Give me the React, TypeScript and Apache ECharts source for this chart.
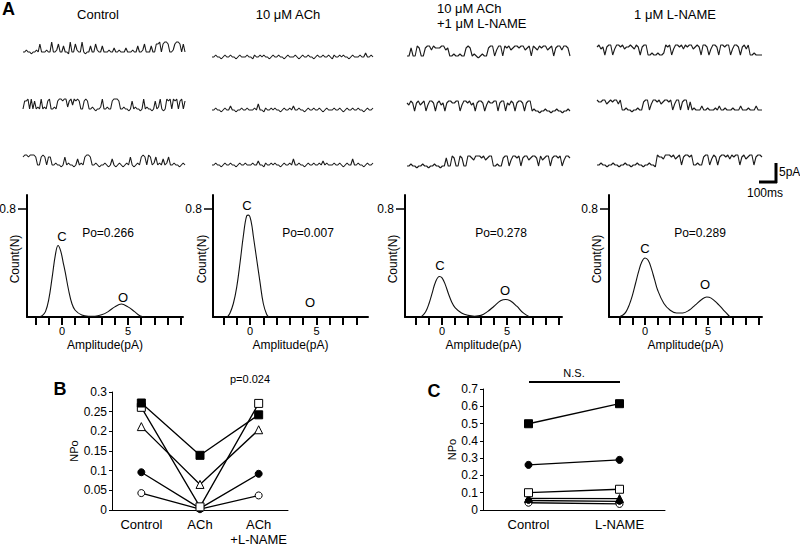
import React, { useEffect, useRef } from "react";
import * as echarts from "echarts";

const FONT = "'Liberation Sans', Arial, Helvetica, sans-serif";

// ---------- Panel A: single-channel traces (digit = current level, baseline = 1, open ≈ 5-6) ----------
const traceControl = [
  "1121101121511121161125114110611521161011411521141112113112111311121141125111411556156651125665151",
  "155616151216121561121566566256365651156511210112611211566651121101512110161211015126101656165615615",
  "566566651156515511211015121101412156651121011210141012101215101215651651251214125112110121",
];
const traceACh = [
  "1121101211211012111211021121211012112110121112101211211012112112102112121101211121131121",
  "1121101211311011211211121411021121211012112131121101211211210121112112101211211211012112",
  "1121101211211012112111211311021121211012112141121101211211213121112112101211411211012112",
];
const traceAChLNAME = [
  "115116511566465556645112112115651210121156614661656456656645616546566456156646651",
  "546515645614665156451566556614665645156651465566156615465156651566121101121101121101121",
  "112110112110112110115116511651166546665645661121156614665615664566516456615665614665",
];
const traceLNAME = [
  "5645156614665645565465156611211211265614665646566456516651466516656614665156461121111",
  "65566456566461121101121156614665645665614661566151211131121112131121112111311121113111",
  "11211011211011211011211011211065546665645615665611211566146515665646566156456615665",
];
const traceColumns = [traceControl, traceACh, traceAChLNAME, traceLNAME];
const columnTitles = ["Control", "10 μM ACh", "10 μM ACh\n+1 μM L-NAME", "1 μM L-NAME"];

// ---------- Panel A: amplitude histograms [amplitude (pA), count] ----------
const histControl = [
  [-2.0, 0], [-1.7, 0.002], [-1.5, 0.01], [-1.25, 0.04], [-1.0, 0.13], [-0.75, 0.29], [-0.5, 0.46],
  [-0.3, 0.53], [-0.1, 0.49], [0.1, 0.4], [0.25, 0.33], [0.5, 0.2], [0.75, 0.1], [1.0, 0.05],
  [1.5, 0.015], [2.0, 0.006], [2.5, 0.006], [3.0, 0.016], [3.5, 0.04], [4.0, 0.075], [4.5, 0.096],
  [5.0, 0.075], [5.5, 0.04], [5.9, 0.01], [6.3, 0],
];
const histACh = [
  [-1.7, 0], [-1.5, 0.03], [-1.25, 0.1], [-1.0, 0.22], [-0.75, 0.4], [-0.5, 0.6], [-0.25, 0.75],
  [-0.1, 0.755], [0.1, 0.7], [0.25, 0.6], [0.5, 0.43], [0.75, 0.26], [1.0, 0.1], [1.25, 0.02], [1.4, 0],
];
const histAChLNAME = [
  [-1.7, 0], [-1.5, 0.01], [-1.25, 0.04], [-1.0, 0.1], [-0.75, 0.18], [-0.5, 0.26], [-0.2, 0.3],
  [0.0, 0.29], [0.25, 0.24], [0.5, 0.17], [0.75, 0.11], [1.0, 0.07], [1.5, 0.03], [2.0, 0.012],
  [2.5, 0.006], [3.0, 0.012], [3.5, 0.04], [4.0, 0.08], [4.5, 0.12], [4.9, 0.13], [5.25, 0.12],
  [5.75, 0.08], [6.25, 0.03], [6.75, 0],
];
const histLNAME = [
  [-2.1, 0], [-1.75, 0.015], [-1.5, 0.04], [-1.25, 0.09], [-1.0, 0.16], [-0.75, 0.25], [-0.5, 0.34],
  [-0.25, 0.41], [0.0, 0.437], [0.25, 0.42], [0.5, 0.36], [0.75, 0.28], [1.0, 0.2], [1.5, 0.1],
  [2.0, 0.05], [2.5, 0.03], [3.0, 0.03], [3.5, 0.05], [4.0, 0.09], [4.5, 0.13], [4.9, 0.148],
  [5.25, 0.14], [5.75, 0.1], [6.25, 0.05], [6.75, 0],
];
const histograms = [histControl, histACh, histAChLNAME, histLNAME];
const poTexts = ["Po=0.266", "Po=0.007", "Po=0.278", "Po=0.289"];
const histXTicks = [-2, -1, 0, 1, 2, 3, 4, 5, 6, 7, 8, 9];
const histXLabels = [0, 5];
const histYLabels = [0.8];

// ---------- Panel B ----------
const bCategories = ["Control", "ACh", "ACh\n+L-NAME"];
const bFilledSquare = [0.272, 0.139, 0.242];
const bOpenSquare = [0.261, 0.008, 0.271];
const bOpenTriangle = [0.212, 0.065, 0.204];
const bFilledCircle = [0.096, 0.004, 0.092];
const bOpenCircle = [0.043, 0.002, 0.037];

// ---------- Panel C ----------
const cCategories = ["Control", "L-NAME"];
const cFilledSquare = [0.499, 0.615];
const cFilledCircle = [0.261, 0.29];
const cOpenSquare = [0.1, 0.12];
const cFilledTriangle = [0.067, 0.066];
const cSmallCircle = [0.055, 0.05];
const cOpenCircle = [0.042, 0.035];

export default function App() {
  const ref = useRef<HTMLDivElement>(null);
  useEffect(() => {
    if (!ref.current) return;
    const chart = echarts.init(ref.current, null, { renderer: "svg" });

    const grids: any[] = [];
    const xAxes: any[] = [];
    const yAxes: any[] = [];
    const series: any[] = [];
    const graphics: any[] = [];

    const text = (t: string, x: number, y: number, size: number, opts: any = {}) => {
      graphics.push({
        type: "text",
        x,
        y,
        z: 100,
        rotation: opts.rotation || 0,
        style: {
          text: t,
          fill: "#000",
          font: `${opts.weight || "normal"} ${size}px ${FONT}`,
          align: opts.align || "center",
          textAlign: opts.align || "center",
          verticalAlign: opts.va || "middle",
          textVerticalAlign: opts.va || "middle",
        },
      });
    };

    // traces
    const traceLayout = [
      { left: 23, width: 162, bases: [52, 109, 165] },
      { left: 212, width: 161, bases: [57, 110, 165] },
      { left: 407, width: 163, bases: [56, 111, 166] },
      { left: 597, width: 165, bases: [55, 110, 165] },
    ];
    traceColumns.forEach((col, ci) => {
      col.forEach((str, ri) => {
        const vals = str.split("").map((c) => Number(c));
        const gi = grids.length;
        const L = traceLayout[ci];
        grids.push({ left: L.left, top: L.bases[ri] - 14, width: L.width, height: 16, outerBoundsMode: "none" });
        xAxes.push({ gridIndex: gi, type: "value", min: 0, max: vals.length - 1, show: false });
        yAxes.push({ gridIndex: gi, type: "value", min: 0, max: 8, show: false });
        series.push({
          type: "line",
          xAxisIndex: gi,
          yAxisIndex: gi,
          data: vals.map((v, i) => [i, v]),
          showSymbol: false,
          lineStyle: { color: "#1a1a1a", width: 1.1 },
          silent: true,
        });
      });
    });

    // histograms
    const histLayout = [
      { left: 27, width: 156, min: -2.65, max: 9.17, nameX: 15 },
      { left: 213, width: 155, min: -2.78, max: 8.87, nameX: 202 },
      { left: 405, width: 157, min: -2.85, max: 9.23, nameX: 393 },
      { left: 609, width: 153, min: -2.86, max: 9.29, nameX: 597 },
    ];
    histograms.forEach((h, hi) => {
      const gi = grids.length;
      const L = histLayout[hi];
      grids.push({ left: L.left, top: 195, width: L.width, height: 122, outerBoundsMode: "none" });
      xAxes.push({
        gridIndex: gi,
        type: "value",
        min: L.min,
        max: L.max,
        splitLine: { show: false },
        axisLine: { show: true, onZero: false, lineStyle: { color: "#000", width: 2 } },
        axisTick: { show: true, customValues: histXTicks, length: 8, lineStyle: { color: "#000", width: 2 } },
        axisLabel: { customValues: histXLabels, color: "#000", fontSize: 11, fontFamily: FONT, margin: 8 },
        name: "Amplitude(pA)",
        nameLocation: "middle",
        nameGap: 22,
        nameMoveOverlap: false,
        nameTextStyle: { color: "#000", fontSize: 12, fontFamily: FONT },
      });
      yAxes.push({
        gridIndex: gi,
        type: "value",
        min: 0,
        max: 0.904,
        splitLine: { show: false },
        axisLine: { show: true, onZero: false, lineStyle: { color: "#000", width: 2 } },
        axisTick: { show: true, customValues: histYLabels, length: 9, lineStyle: { color: "#000", width: 1.5 } },
        axisLabel: { customValues: histYLabels, color: "#000", fontSize: 12, fontFamily: FONT, margin: 11 },
      });
      text("Count(N)", L.nameX, 259, 12, { rotation: Math.PI / 2 });
      series.push({
        type: "line",
        xAxisIndex: gi,
        yAxisIndex: gi,
        data: h,
        smooth: 0.4,
        showSymbol: false,
        lineStyle: { color: "#111", width: 1.1 },
        silent: true,
      });
    });

    // panel B
    const bGi = grids.length;
    grids.push({ left: 112, top: 392, width: 176, height: 118, outerBoundsMode: "none" });
    xAxes.push({
      gridIndex: bGi,
      type: "category",
      data: bCategories,
      axisLine: { lineStyle: { color: "#000", width: 1 } },
      axisTick: { alignWithLabel: true, length: 4, lineStyle: { color: "#000" } },
      axisLabel: { color: "#000", fontSize: 13, fontFamily: FONT, margin: 7, lineHeight: 15, interval: 0 },
    });
    yAxes.push({
      gridIndex: bGi,
      type: "value",
      min: 0,
      max: 0.3,
      interval: 0.05,
      splitLine: { show: false },
      axisLine: { show: true, lineStyle: { color: "#000", width: 1 } },
      axisTick: { show: true, length: 3, lineStyle: { color: "#000" } },
      axisLabel: { color: "#000", fontSize: 12, fontFamily: FONT, margin: 5, formatter: (v: number) => String(+v.toFixed(2)) },
      name: "NPo",
      nameLocation: "middle",
      nameRotate: 90,
      nameGap: 33,
      nameMoveOverlap: false,
      nameTextStyle: { color: "#000", fontSize: 11, fontFamily: FONT },
    });
    const mk = (gi: number, data: number[], symbol: string, filled: boolean, size: number) => ({
      type: "line",
      xAxisIndex: gi,
      yAxisIndex: gi,
      data,
      symbol,
      symbolSize: size,
      showSymbol: true,
      lineStyle: { color: "#000", width: 1.3 },
      itemStyle: { color: filled ? "#000" : "#fff", borderColor: "#000", borderWidth: 1 },
      silent: true,
    });
    series.push(mk(bGi, bOpenCircle, "circle", false, 7));
    series.push(mk(bGi, bFilledCircle, "circle", true, 7));
    series.push(mk(bGi, bOpenTriangle, "triangle", false, 8));
    series.push(mk(bGi, bOpenSquare, "rect", false, 8));
    series.push(mk(bGi, bFilledSquare, "rect", true, 8));

    // panel C
    const cGi = grids.length;
    grids.push({ left: 483, top: 389, width: 182, height: 121, outerBoundsMode: "none" });
    xAxes.push({
      gridIndex: cGi,
      type: "category",
      data: cCategories,
      axisLine: { lineStyle: { color: "#000", width: 1 } },
      axisTick: { alignWithLabel: true, length: 4, lineStyle: { color: "#000" } },
      axisLabel: { color: "#000", fontSize: 13, fontFamily: FONT, margin: 8, interval: 0 },
    });
    yAxes.push({
      gridIndex: cGi,
      type: "value",
      min: 0,
      max: 0.7,
      interval: 0.1,
      splitLine: { show: false },
      axisLine: { show: true, lineStyle: { color: "#000", width: 1 } },
      axisTick: { show: true, length: 3, lineStyle: { color: "#000" } },
      axisLabel: { color: "#000", fontSize: 12, fontFamily: FONT, margin: 5, formatter: (v: number) => String(+v.toFixed(1)) },
      name: "NPo",
      nameLocation: "middle",
      nameRotate: 90,
      nameGap: 26,
      nameMoveOverlap: false,
      nameTextStyle: { color: "#000", fontSize: 11, fontFamily: FONT },
    });
    series.push(mk(cGi, cOpenCircle, "circle", false, 7));
    series.push(mk(cGi, cSmallCircle, "circle", true, 6));
    series.push(mk(cGi, cFilledTriangle, "triangle", true, 8));
    series.push(mk(cGi, cOpenSquare, "rect", false, 8));
    series.push(mk(cGi, cFilledCircle, "circle", true, 7));
    series.push(mk(cGi, cFilledSquare, "rect", true, 8));

    // texts
    text("A", 2, 9, 18, { weight: "bold", align: "left" });
    text(columnTitles[0], 98, 14, 13);
    text(columnTitles[1], 288, 14, 13);
    text("10 μM ACh", 437, 8, 13, { align: "left" });
    text("+1 μM L-NAME", 437, 23, 13, { align: "left" });
    text(columnTitles[3], 675, 14, 13);

    const coPos = [
      { C: [62, 236], O: [123, 297], P: [108, 233] },
      { C: [247, 205], O: [310, 302], P: [308, 233] },
      { C: [440, 265], O: [505, 290], P: [501, 233] },
      { C: [645, 248], O: [705, 284], P: [700, 233] },
    ];
    coPos.forEach((p, i) => {
      text("C", p.C[0], p.C[1], 13);
      text("O", p.O[0], p.O[1], 13);
      text(poTexts[i], p.P[0], p.P[1], 12);
    });

    // scale bar
    graphics.push({ type: "line", shape: { x1: 776, y1: 163, x2: 776, y2: 183 }, style: { stroke: "#000", lineWidth: 3 } });
    graphics.push({ type: "line", shape: { x1: 759, y1: 182, x2: 777, y2: 182 }, style: { stroke: "#000", lineWidth: 3 } });
    text("5pA", 779, 172, 12, { align: "left" });
    text("100ms", 765, 193, 12);

    text("B", 60, 389, 18, { weight: "bold" });
    text("p=0.024", 250, 379, 11);
    text("C", 434, 391, 18, { weight: "bold" });
    text("N.S.", 574, 373, 11);
    graphics.push({ type: "line", shape: { x1: 529, y1: 382, x2: 620, y2: 382 }, style: { stroke: "#000", lineWidth: 2 } });

    chart.setOption({
      animation: false,
      backgroundColor: "#fff",
      grid: grids,
      xAxis: xAxes,
      yAxis: yAxes,
      series,
      graphic: graphics,
    });
    return () => chart.dispose();
  }, []);
  return <div ref={ref} style={{ position: "fixed", left: 0, top: 0, width: 800, height: 546 }} />;
}
